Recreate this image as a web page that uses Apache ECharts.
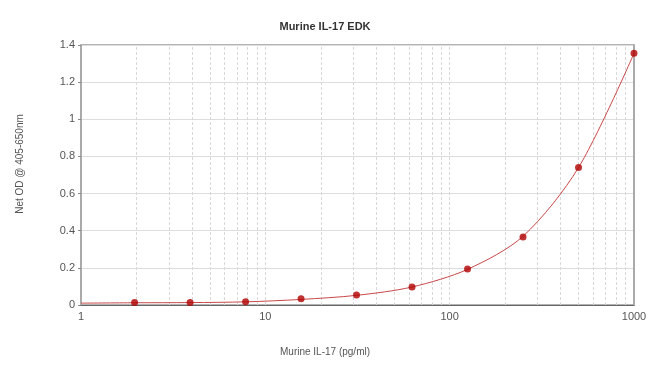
<!DOCTYPE html>
<html><head><meta charset="utf-8">
<script src="https://cdn.jsdelivr.net/npm/echarts@6/dist/echarts.min.js"></script>
<style>html,body{margin:0;padding:0;background:#fff}#c{width:650px;height:383px}</style>
</head><body><div id="c"></div>
<script>
const concentrations = [1.953, 3.906, 7.8125, 15.625, 31.25, 62.5, 125, 250, 500, 1000];
const odValues = [0.013, 0.013, 0.018, 0.034, 0.054, 0.097, 0.194, 0.366, 0.741, 1.355];
const fitX = [1, 1.953, 3.906, 7.8125, 15.625, 31.25, 62.5, 125, 250, 500, 1000];
const fitY = [0.01, 0.012, 0.013, 0.017, 0.030, 0.052, 0.097, 0.192, 0.370, 0.740, 1.355];
const minorGrid = [2,3,4,5,6,7,8,9,10,20,30,40,50,60,70,80,90,100,200,300,400,500,600,700,800,900];
const yTicks = [0, 0.2, 0.4, 0.6, 0.8, 1, 1.2, 1.4];

const chart = echarts.init(document.getElementById('c'));
chart.setOption({
  animation: false,
  title: {
    text: 'Murine IL-17 EDK', left: 'center', top: 16,
    textStyle: {fontFamily: '"Liberation Sans", Arial', fontSize: 11, fontWeight: 'bold', color: '#333'}
  },
  graphic: [{
    type: 'text', left: 'center', top: 347,
    style: {text: 'Murine IL-17 (pg/ml)', font: '10px "Liberation Sans", Arial', fill: '#555'}
  }],
  grid: {left: 81, right: 16, top: 45, bottom: 78, show: true, borderColor: '#666', borderWidth: 1, backgroundColor: 'transparent'},
  xAxis: {
    type: 'log', logBase: 10, min: 1, max: 1000,
    axisLine: {lineStyle: {color: '#666', width: 1}},
    axisTick: {show: false},
    axisLabel: {fontFamily: 'Liberation Sans, Arial', fontSize: 11, color: '#555', margin: 6,
      formatter: v => String(Math.round(v))},
    splitLine: {show: false}
  },
  yAxis: [{
    type: 'value', min: 0, max: 1.4, interval: 0.2,
    name: 'Net OD @ 405-650nm', nameLocation: 'middle', nameGap: 56, nameRotate: 90,
    nameTextStyle: {fontFamily: 'Liberation Sans, Arial', fontSize: 10, color: '#555', padding: [0, 0, 0, 22]},
    axisLine: {show: true, lineStyle: {color: '#aaa', width: 2}},
    axisTick: {show: true, length: 3, lineStyle: {color: '#888'}},
    axisLabel: {fontFamily: 'Liberation Sans, Arial', fontSize: 11, color: '#555', margin: 6,
      formatter: v => String(+v.toFixed(1))},
    splitLine: {show: true, lineStyle: {color: '#ddd', width: 1}}
  }, {
    type: 'value', min: 0, max: 1.4, interval: 0.2, position: 'right',
    axisLine: {show: true, lineStyle: {color: '#aaa', width: 2}},
    axisTick: {show: false}, axisLabel: {show: false}, splitLine: {show: false}
  }],
  series: [{
    type: 'line', data: fitX.map((x, i) => [x, fitY[i]]),
    smooth: 0.3, showSymbol: false, symbol: 'none',
    lineStyle: {color: '#c84848', width: 1},
    silent: true, z: 3,
    markLine: {
      silent: true, symbol: ['none', 'none'], label: {show: false},
      lineStyle: {color: '#d8d8d8', type: [3, 2], width: 1},
      data: minorGrid.map(v => ({xAxis: v})),
      z: 1
    }
  }, {
    type: 'scatter', data: concentrations.map((x, i) => [x, odValues[i]]),
    symbol: 'circle', symbolSize: 7,
    itemStyle: {color: '#b00000'}, z: 5
  }]
});
</script></body></html>
